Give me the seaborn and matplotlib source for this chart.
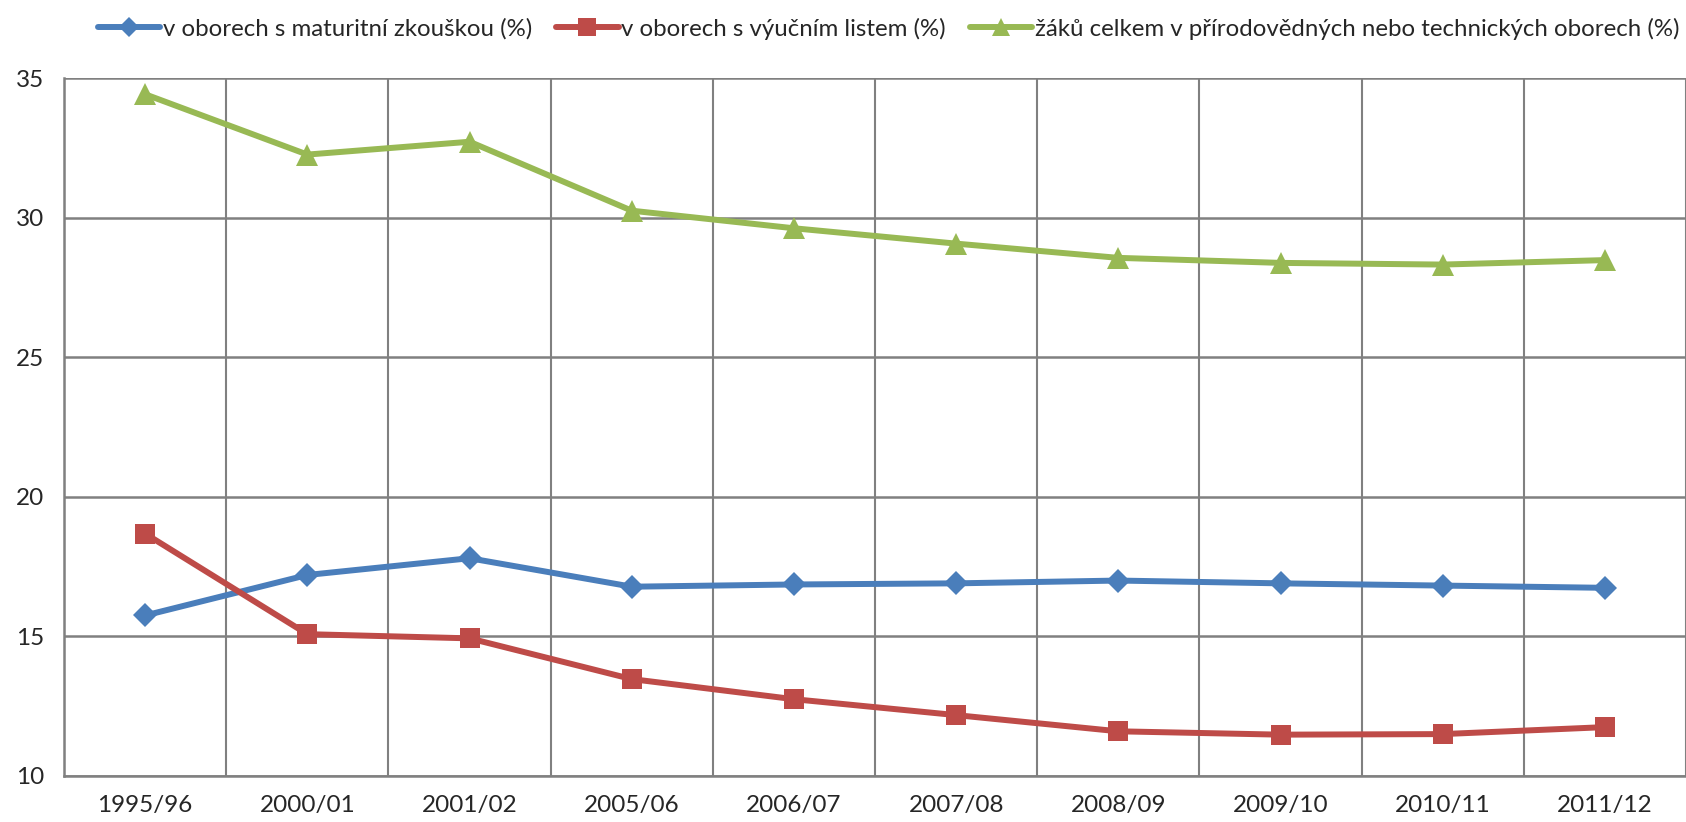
import pandas as pd
import numpy as np
import matplotlib
matplotlib.use("Agg")
import matplotlib.pyplot as plt
import seaborn as sns

# ===== DATA =====
years = ["1995/96", "2000/01", "2001/02", "2005/06", "2006/07",
         "2007/08", "2008/09", "2009/10", "2010/11", "2011/12"]
maturita = [15.75, 17.2, 17.8, 16.78, 16.86, 16.9, 17.0, 16.9, 16.82, 16.74]
vyucni = [18.68, 15.08, 14.93, 13.47, 12.75, 12.18, 11.6, 11.48, 11.5, 11.75]
celkem = [34.42, 32.26, 32.72, 30.25, 29.62, 29.07, 28.56, 28.38, 28.32, 28.48]

labels = ["v oborech s maturitní zkouškou (%)",
          "v oborech s výučním listem (%)",
          "žáků celkem v přírodovědných nebo technických oborech (%)"]
colors = ["#4A7EBB", "#BE4B48", "#98B954"]
markers = ["D", "s", "^"]
msizes = [12.5, 14.5, 15.5]

# long format pro seaborn
df = pd.DataFrame({
    "rok": years * 3,
    "pozice": list(range(len(years))) * 3,
    "hodnota": maturita + vyucni + celkem,
    "serie": [labels[0]] * len(years) + [labels[1]] * len(years) + [labels[2]] * len(years),
})

sns.set_style("white")
plt.rcParams["font.family"] = ["Lato", "DejaVu Sans"]

fig = plt.figure(figsize=(16.86, 8.22), dpi=100)
ax = fig.add_axes([0.038, 0.056, 0.962, 0.849])

lw = 4.3
sns.lineplot(data=df, x="pozice", y="hodnota", hue="serie", style="serie",
             palette=dict(zip(labels, colors)), markers=dict(zip(labels, markers)),
             dashes=False, markeredgewidth=0, sort=False, legend=False, ax=ax)
# tloustka car a velikost znacek pro kazdou serii
for line, m in zip(ax.lines, msizes):
    line.set_linewidth(lw)
    line.set_markersize(m)

# ===== OSY A MRIZKA =====
grid_c = "#808080"
ax.set_xlim(-0.5, len(years) - 0.5)
ax.set_ylim(10, 35)
ax.set_yticks([10, 15, 20, 25, 30, 35])
ax.set_xticks(range(len(years)))
ax.set_xticklabels(years)
ax.set_xticks(np.arange(-0.5, len(years), 1.0), minor=True)
ax.tick_params(axis="x", which="major", length=0, pad=14, labelsize=17.5)
ax.tick_params(axis="x", which="minor", length=8, width=1.5, color=grid_c)
ax.tick_params(axis="y", which="major", length=8, width=1.5, color=grid_c, pad=6, labelsize=17.5)
ax.grid(True, axis="y", which="major", color=grid_c, linewidth=1.8)
ax.grid(True, axis="x", which="minor", color=grid_c, linewidth=1.5)
ax.set_axisbelow(True)
ax.set_xlabel("")
ax.set_ylabel("")
for s in ["top", "right"]:
    ax.spines[s].set_visible(False)
for s in ["left", "bottom"]:
    ax.spines[s].set_color(grid_c)
    ax.spines[s].set_linewidth(1.8)

# ===== LEGENDA =====
handles = [plt.Line2D([], [], color=c, marker=m, linewidth=lw, markersize=ms * 0.85, markeredgewidth=0)
           for c, m, ms in zip(colors, markers, msizes)]
fig.legend(handles, labels, loc="upper center", bbox_to_anchor=(0.527, 1.005), ncol=3,
           frameon=False, fontsize=17.3, handlelength=2.6, handletextpad=0.1, columnspacing=1.0)

fig.savefig("out.png", dpi=100)
